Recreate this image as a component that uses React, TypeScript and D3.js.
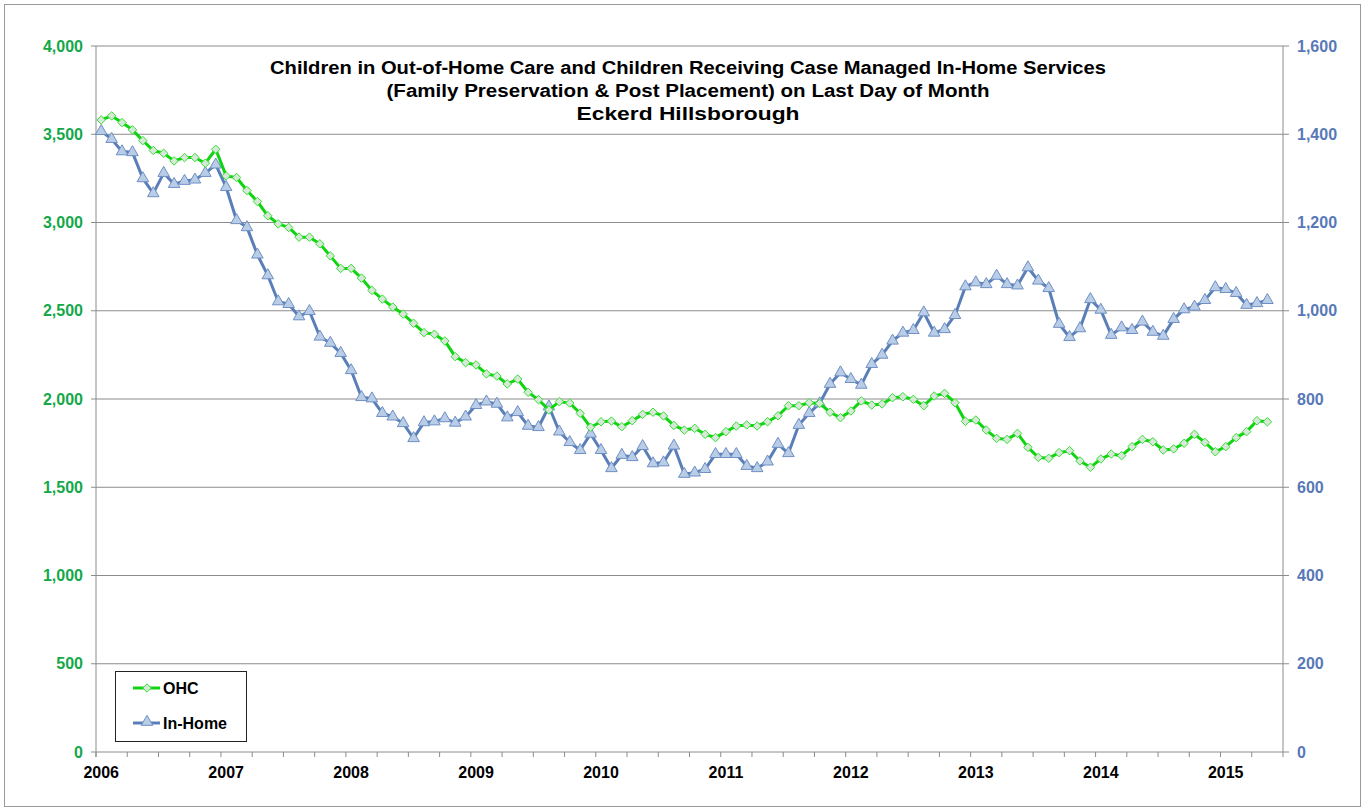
import * as d3 from "d3";

const W = 1370;
const H = 811;
const PLOT = { left: 96, right: 1283, top: 46, bottom: 752 };

const YEARS = ["2006", "2007", "2008", "2009", "2010", "2011", "2012", "2013", "2014", "2015"];
const N_CATS = 114; // Jan 2006 .. Jun 2015 (last month empty)

const LEFT_TICKS = [0, 500, 1000, 1500, 2000, 2500, 3000, 3500, 4000];
const RIGHT_TICKS = [0, 200, 400, 600, 800, 1000, 1200, 1400, 1600];

// OHC, left axis, last day of month from Jan 2006
const ohc = [
  3581, 3604, 3566, 3525, 3464, 3408, 3392, 3349, 3368, 3368, 3336, 3415,
  3264, 3255, 3181, 3119, 3038, 2992, 2972, 2917, 2917, 2879, 2811, 2740,
  2740, 2685, 2615, 2566, 2521, 2481, 2429, 2376, 2367, 2329, 2240, 2206,
  2193, 2142, 2130, 2085, 2113, 2038, 1996, 1938, 1985, 1977, 1919, 1840,
  1871, 1875, 1843, 1877, 1913, 1925, 1904, 1850, 1824, 1834, 1800, 1781,
  1815, 1847, 1853, 1847, 1871, 1905, 1962, 1962, 1979, 1975, 1925, 1894,
  1932, 1989, 1966, 1972, 2007, 2013, 1998, 1962, 2017, 2032, 1979, 1874,
  1881, 1824, 1777, 1771, 1805, 1726, 1669, 1664, 1696, 1707, 1649, 1613,
  1660, 1688, 1679, 1730, 1771, 1758, 1711, 1717, 1749, 1800, 1754, 1701,
  1730, 1781, 1815, 1877, 1871,
];

// In-Home, right axis
const inHome = [
  1407, 1389, 1361, 1359, 1300, 1266, 1312, 1287, 1294, 1297, 1312, 1331,
  1280, 1205, 1189, 1127, 1080, 1021, 1015, 987, 999, 941, 927, 904,
  865, 804, 801, 768, 760, 745, 711, 747, 749, 756, 746, 760,
  786, 794, 789, 758, 770, 739, 736, 783, 726, 702, 684, 721,
  684, 643, 673, 668, 693, 654, 656, 694, 630, 633, 641, 675,
  675, 675, 648, 643, 658, 698, 677, 741, 768, 790, 834, 860,
  845, 832, 879, 900, 932, 950, 956, 996, 950, 958, 990, 1055,
  1064, 1060, 1079, 1060, 1057, 1098, 1068, 1051, 970, 940, 960, 1026,
  1002, 945, 962, 956, 975, 952, 943, 981, 1003, 1009, 1024, 1053,
  1049, 1040, 1013, 1017, 1024,
];

const TITLE = [
  "Children in Out-of-Home Care and Children Receiving Case Managed In-Home Services",
  "(Family Preservation & Post Placement) on Last Day of Month",
  "Eckerd Hillsborough",
];
const TITLE_WIDTHS = [836, 603, 223];

const GREEN = "#11d411";
const GREEN_TXT = "#14a84a";
const BLUE = "#5a7fb8";
const BLUE_TXT = "#5878b8";
const GRID = "#8c8c8c";
const FONT = "'Liberation Sans', Arial, sans-serif";

export default function App() {
  const cats = d3.range(N_CATS);
  const x = d3.scaleBand<number>().domain(cats).range([PLOT.left, PLOT.right]).padding(0);
  const cx = (i: number) => (x(i) ?? 0) + x.bandwidth() / 2;
  const yL = d3.scaleLinear().domain([0, 4000]).range([PLOT.bottom, PLOT.top]);
  const yR = d3.scaleLinear().domain([0, 1600]).range([PLOT.bottom, PLOT.top]);
  const fmt = d3.format(",");

  const ohcLine = d3.line<number>().x((_, i) => cx(i)).y((d) => yL(d));
  const homeLine = d3.line<number>().x((_, i) => cx(i)).y((d) => yR(d));
  const diamond = d3.symbol().type(d3.symbolDiamond2).size(46)();
  const triangle = d3.symbol().type(d3.symbolTriangle).size(58)();

  const quarterTicks = d3.range(0, N_CATS + 1, 3).map((i) => (i < N_CATS ? x(i)! : PLOT.right));

  return (
    <svg
      width={W}
      height={H}
      style={{ position: "absolute", left: 0, top: 0, background: "#fff" }}
      fontFamily={FONT}
    >
      <rect x={4.5} y={4.5} width={1356} height={802} fill="#fff" stroke="#9a9a9a" />

      {/* grid */}
      {LEFT_TICKS.map((t) => (
        <line key={t} x1={PLOT.left - 5} x2={PLOT.right + 6} y1={yL(t)} y2={yL(t)} stroke={GRID} strokeWidth={1} />
      ))}
      <line x1={PLOT.left} x2={PLOT.left} y1={PLOT.top} y2={PLOT.bottom + 5} stroke={GRID} />
      <line x1={PLOT.right} x2={PLOT.right} y1={PLOT.top} y2={PLOT.bottom} stroke={GRID} />
      {quarterTicks.map((t, i) => (
        <line key={i} x1={t} x2={t} y1={PLOT.bottom} y2={PLOT.bottom + 5} stroke={GRID} />
      ))}

      {/* left axis labels */}
      {LEFT_TICKS.map((t) => (
        <text key={t} x={83} y={yL(t)} dy="0.35em" textAnchor="end" fontSize={16} fontWeight="bold" fill={GREEN_TXT}>
          {fmt(t)}
        </text>
      ))}
      {/* right axis labels */}
      {RIGHT_TICKS.map((t) => (
        <text key={t} x={1297} y={yR(t)} dy="0.35em" textAnchor="start" fontSize={16} fontWeight="bold" fill={BLUE_TXT}>
          {fmt(t)}
        </text>
      ))}
      {/* year labels */}
      {YEARS.map((yr, k) => (
        <text key={yr} x={cx(k * 12)} y={772} dy="0.35em" textAnchor="middle" fontSize={16} fontWeight="bold" fill="#000">
          {yr}
        </text>
      ))}

      {/* series */}
      <path d={homeLine(inHome) ?? ""} fill="none" stroke={BLUE} strokeWidth={3} strokeLinejoin="round" />
      {inHome.map((d, i) => (
        <path key={i} d={triangle} transform={`translate(${cx(i)},${yR(d)})`} fill="#b9cde6" stroke="#6f8fc4" strokeWidth={1} />
      ))}
      <path d={ohcLine(ohc) ?? ""} fill="none" stroke={GREEN} strokeWidth={3} strokeLinejoin="round" />
      {ohc.map((d, i) => (
        <path key={i} d={diamond} transform={`translate(${cx(i)},${yL(d)})`} fill="#d8e8d8" stroke="#33e033" strokeWidth={1} />
      ))}

      {/* title */}
      {TITLE.map((t, k) => (
        <text
          key={k}
          x={688}
          y={68 + k * 23}
          dy="0.35em"
          textAnchor="middle"
          fontSize={18}
          fontWeight="bold"
          fill="#000"
          textLength={TITLE_WIDTHS[k]}
          lengthAdjust="spacingAndGlyphs"
        >
          {t}
        </text>
      ))}

      {/* legend */}
      <g>
        <rect x={115.5} y={671.5} width={131} height={70} fill="#fff" stroke="#222" strokeWidth={1} />
        <line x1={133} x2={160} y1={688} y2={688} stroke={GREEN} strokeWidth={3} />
        <path d={diamond} transform="translate(147,688)" fill="#d8e8d8" stroke="#33e033" />
        <text x={163} y={688} dy="0.35em" fontSize={16} fontWeight="bold" fill="#000">OHC</text>
        <line x1={133} x2={160} y1={723} y2={723} stroke={BLUE} strokeWidth={3} />
        <path d={triangle} transform="translate(147,722)" fill="#b9cde6" stroke="#6f8fc4" />
        <text x={163} y={723} dy="0.35em" fontSize={16} fontWeight="bold" fill="#000">In-Home</text>
      </g>
    </svg>
  );
}
